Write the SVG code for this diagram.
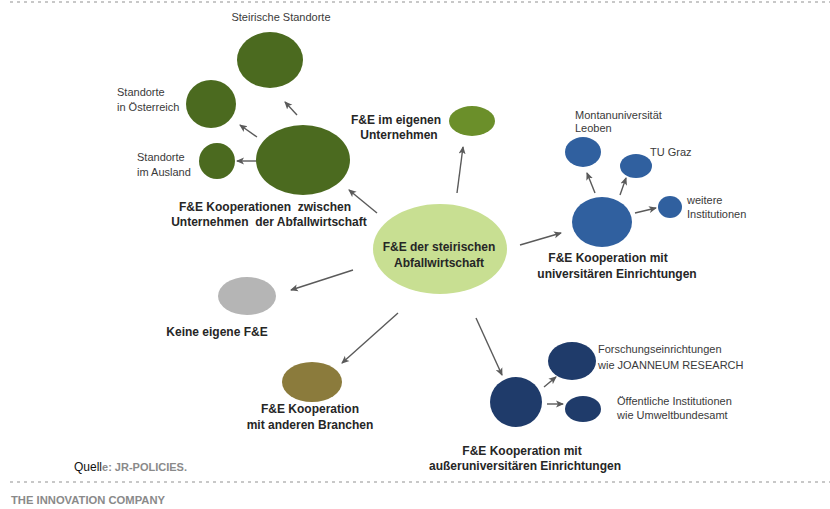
<svg xmlns="http://www.w3.org/2000/svg" width="830" height="509" viewBox="0 0 830 509">
  <style>
    .lbl { font-family: "Liberation Sans", Arial, sans-serif; font-size: 11px; fill: #3a3a3a; }
    .bold { font-family: "Liberation Sans", Arial, sans-serif; font-size: 12px; font-weight: bold; fill: #262626; }
    .mid { text-anchor: middle; }
    .conn { stroke: #5a5a5a; stroke-width: 1.4; fill: none; marker-end: url(#arrow); }
    .dots { stroke: #c8c8c8; stroke-width: 2.2; stroke-dasharray: 3 4; }
    .g-dark { fill: #4b6a1f; }
    .g-light { fill: #c8df92; }
    .g-mid { fill: #6b8f2a; }
    .b-uni { fill: #30609f; }
    .b-navy { fill: #1f3b6a; }
    .grey { fill: #b5b5b5; }
    .olive { fill: #8b7b3c; }
  </style>
  <defs>
    <marker id="arrow" markerWidth="8" markerHeight="8" refX="7" refY="4" orient="auto" markerUnits="userSpaceOnUse">
      <path d="M0,0.5 L8,4 L0,7.5 L2,4 z" fill="#5a5a5a"/>
    </marker>
  </defs>

  <rect width="830" height="509" fill="#ffffff"/>

  <!-- page rules -->
  <line class="dots" x1="10" y1="2" x2="830" y2="2"/>
  <line class="dots" x1="10" y1="482" x2="830" y2="482"/>

  <!-- connectors -->
  <g id="connectors">
    <line class="conn" x1="377" y1="213" x2="349" y2="190"/>
    <line class="conn" x1="257" y1="161" x2="237" y2="161"/>
    <line class="conn" x1="257" y1="137" x2="240" y2="125"/>
    <line class="conn" x1="297" y1="115" x2="285" y2="102"/>
    <line class="conn" x1="457" y1="193" x2="463" y2="147"/>
    <line class="conn" x1="520" y1="245" x2="561" y2="233"/>
    <line class="conn" x1="595" y1="193" x2="587" y2="173"/>
    <line class="conn" x1="620" y1="195" x2="626" y2="178"/>
    <line class="conn" x1="635" y1="213" x2="656" y2="208"/>
    <line class="conn" x1="353" y1="270" x2="291" y2="290"/>
    <line class="conn" x1="398" y1="313" x2="342" y2="363"/>
    <line class="conn" x1="476" y1="318" x2="502" y2="375"/>
    <line class="conn" x1="544" y1="387" x2="556" y2="377"/>
    <line class="conn" x1="547" y1="404" x2="563" y2="404"/>
  </g>

  <!-- central node -->
  <g id="center">
    <ellipse class="g-light" cx="440" cy="249" rx="67" ry="45"/>
    <text class="bold mid" x="439" y="251">F&amp;E der steirischen</text>
    <text class="bold mid" x="439" y="267">Abfallwirtschaft</text>
  </g>

  <!-- cooperation between companies -->
  <g id="koop-unternehmen">
    <ellipse class="g-dark" cx="303" cy="160" rx="47" ry="35"/>
    <text class="bold mid" x="265" y="211" xml:space="preserve">F&amp;E Kooperationen  zwischen</text>
    <text class="bold mid" x="269" y="226" xml:space="preserve">Unternehmen  der Abfallwirtschaft</text>
  </g>
  <g id="steirische-standorte">
    <ellipse class="g-dark" cx="270" cy="60" rx="33" ry="28"/>
    <text class="lbl mid" x="281" y="21">Steirische Standorte</text>
  </g>
  <g id="standorte-oesterreich">
    <ellipse class="g-dark" cx="211" cy="104" rx="25" ry="24"/>
    <text class="lbl" x="117" y="96">Standorte</text>
    <text class="lbl" x="117" y="111">in Österreich</text>
  </g>
  <g id="standorte-ausland">
    <ellipse class="g-dark" cx="217" cy="161" rx="18" ry="18"/>
    <text class="lbl" x="137" y="161">Standorte</text>
    <text class="lbl" x="137" y="176">im Ausland</text>
  </g>

  <!-- own R&D -->
  <g id="eigenes-unternehmen">
    <ellipse class="g-mid" cx="472" cy="121" rx="23" ry="15"/>
    <text class="bold mid" x="396" y="124">F&amp;E im eigenen</text>
    <text class="bold mid" x="399" y="139">Unternehmen</text>
  </g>

  <!-- university cooperation -->
  <g id="koop-universitaer">
    <ellipse class="b-uni" cx="602" cy="222" rx="30" ry="25"/>
    <text class="bold mid" x="608" y="262">F&amp;E Kooperation mit</text>
    <text class="bold mid" x="617" y="278">universitären Einrichtungen</text>
  </g>
  <g id="montanuni">
    <ellipse class="b-uni" cx="583" cy="152" rx="18" ry="15"/>
    <text class="lbl" x="575" y="119">Montanuniversität</text>
    <text class="lbl" x="575" y="132">Leoben</text>
  </g>
  <g id="tu-graz">
    <ellipse class="b-uni" cx="636" cy="166" rx="16" ry="12"/>
    <text class="lbl" x="650" y="156">TU Graz</text>
  </g>
  <g id="weitere">
    <ellipse class="b-uni" cx="670" cy="207" rx="12" ry="11"/>
    <text class="lbl" x="687" y="204">weitere</text>
    <text class="lbl" x="687" y="218">Institutionen</text>
  </g>

  <!-- no R&D -->
  <g id="keine-fe">
    <ellipse class="grey" cx="247" cy="296" rx="29" ry="19"/>
    <text class="bold mid" x="217" y="336">Keine eigene F&amp;E</text>
  </g>

  <!-- other sectors -->
  <g id="andere-branchen">
    <ellipse class="olive" cx="312" cy="382" rx="30" ry="20"/>
    <text class="bold mid" x="310" y="413">F&amp;E Kooperation</text>
    <text class="bold mid" x="310" y="429">mit anderen Branchen</text>
  </g>

  <!-- non-university cooperation -->
  <g id="koop-ausseruniversitaer">
    <ellipse class="b-navy" cx="516" cy="402" rx="26" ry="25"/>
    <text class="bold mid" x="522" y="455">F&amp;E Kooperation mit</text>
    <text class="bold mid" x="525" y="470">außeruniversitären Einrichtungen</text>
  </g>
  <g id="forschungseinrichtungen">
    <ellipse class="b-navy" cx="572" cy="361" rx="24" ry="19"/>
    <text class="lbl" x="598" y="353">Forschungseinrichtungen</text>
    <text class="lbl" x="598" y="369">wie JOANNEUM RESEARCH</text>
  </g>
  <g id="oeffentliche">
    <ellipse class="b-navy" cx="583" cy="409" rx="18" ry="13"/>
    <text class="lbl" x="617" y="405">Öffentliche Institutionen</text>
    <text class="lbl" x="617" y="419">wie Umweltbundesamt</text>
  </g>

  <!-- footer -->
  <text x="74" y="471" font-family="Liberation Sans, Arial, sans-serif" font-size="12" fill="#111">Quell<tspan fill="#8a8a8a" font-weight="bold" font-size="11">e: JR-POLICIES.</tspan></text>
  <text x="11" y="504" font-family="Liberation Sans, Arial, sans-serif" font-size="10" font-weight="bold" fill="#8a8a8a" textLength="154" lengthAdjust="spacingAndGlyphs">THE INNOVATION COMPANY</text>
</svg>
